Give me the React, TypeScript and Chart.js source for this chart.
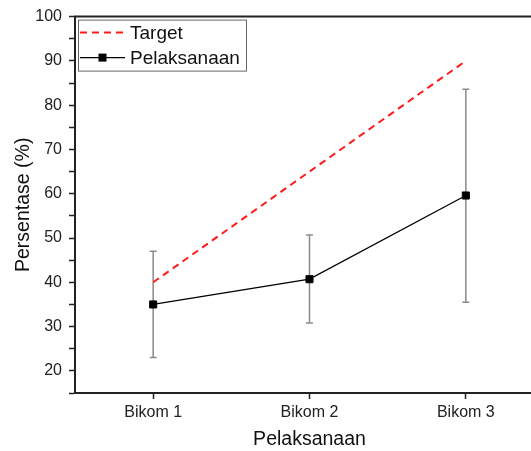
import React, { useEffect, useRef } from 'react';
import { Chart, registerables } from 'chart.js';

Chart.register(...registerables);

const categories = ['Bikom 1', 'Bikom 2', 'Bikom 3'];
const targetValues = [40, 65, 90];
const pelaksanaanValues = [35, 40.7, 59.6];
const errorLow = [23, 30.8, 35.5];
const errorHigh = [47, 50.7, 83.6];
const yMin = 15;
const yMax = 100;
const yStep = 5;
const yLabelStep = 10;

const FONT = '"Liberation Sans", Arial, sans-serif';
const AXIS = '#222222';

const errorBarPlugin = {
  id: 'errorBars',
  beforeDatasetsDraw(chart: any) {
    const ctx = chart.ctx;
    const xs = chart.scales.x;
    const ys = chart.scales.y;
    ctx.save();
    ctx.strokeStyle = '#8a8a8a';
    ctx.lineWidth = 1.5;
    categories.forEach((_c, i) => {
      const px = xs.getPixelForValue(i);
      const t = ys.getPixelForValue(errorHigh[i]);
      const b = ys.getPixelForValue(errorLow[i]);
      ctx.beginPath();
      ctx.moveTo(px, t);
      ctx.lineTo(px, b);
      ctx.moveTo(px - 3.5, t);
      ctx.lineTo(px + 3.5, t);
      ctx.moveTo(px - 3.5, b);
      ctx.lineTo(px + 3.5, b);
      ctx.stroke();
    });
    ctx.restore();
  },
};

const frameLegendPlugin = {
  id: 'frameLegend',
  afterDraw(chart: any) {
    const ctx = chart.ctx;
    const { left, top, right, bottom } = chart.chartArea;
    ctx.save();
    ctx.strokeStyle = AXIS;
    ctx.lineWidth = 2;
    ctx.beginPath();
    ctx.moveTo(left - 1, top);
    ctx.lineTo(right, top);
    ctx.lineTo(right, bottom);
    ctx.stroke();

    const bx = left + 3;
    const by = top + 3;
    const bw = 168;
    const bh = 51;
    ctx.fillStyle = '#ffffff';
    ctx.fillRect(bx, by, bw, bh);
    ctx.strokeStyle = '#666666';
    ctx.lineWidth = 1;
    ctx.strokeRect(bx + 0.5, by + 0.5, bw, bh);

    ctx.font = `19px ${FONT}`;
    ctx.textBaseline = 'middle';
    ctx.textAlign = 'left';
    chart.data.datasets.forEach((ds: any, i: number) => {
      const cy = by + 13 + i * 25;
      const x0 = bx + 2;
      const x1 = bx + 47;
      ctx.save();
      ctx.strokeStyle = ds.borderColor;
      ctx.lineWidth = ds.borderWidth;
      ctx.setLineDash(ds.borderDash || []);
      ctx.beginPath();
      ctx.moveTo(x0, cy);
      ctx.lineTo(x1, cy);
      ctx.stroke();
      ctx.restore();
      if (ds.pointRadius > 0) {
        ctx.fillStyle = ds.pointBackgroundColor;
        ctx.fillRect((x0 + x1) / 2 - 4, cy - 4, 8, 8);
      }
      ctx.fillStyle = '#111';
      ctx.fillText(ds.label, bx + 52, cy + 1);
    });
    ctx.restore();
  },
};

export default function App() {
  const ref = useRef<HTMLCanvasElement | null>(null);

  useEffect(() => {
    if (!ref.current) return;
    const chart = new Chart(ref.current, {
      type: 'line',
      data: {
        labels: categories,
        datasets: [
          {
            label: 'Target',
            data: targetValues,
            borderColor: '#ff1a1a',
            borderWidth: 2,
            borderDash: [7, 5],
            pointRadius: 0,
            fill: false,
            tension: 0,
          },
          {
            label: 'Pelaksanaan',
            data: pelaksanaanValues,
            borderColor: '#000000',
            borderWidth: 1.3,
            pointStyle: 'rect',
            pointRadius: 5,
            pointBorderWidth: 1,
            pointBackgroundColor: '#000000',
            pointBorderColor: '#000000',
            fill: false,
            tension: 0,
          },
        ],
      },
      options: {
        responsive: false,
        animation: false,
        devicePixelRatio: 1,
        layout: { padding: { top: 16, right: 3, left: 0, bottom: 0 } },
        plugins: {
          legend: { display: false },
          tooltip: { enabled: false },
        },
        scales: {
          x: {
            type: 'category',
            offset: true,
            afterFit(scale: any) {
              scale.height = 58;
            },
            grid: {
              display: true,
              drawOnChartArea: false,
              drawTicks: true,
              tickLength: 6,
              tickColor: AXIS,
              tickWidth: 1.5,
              offset: false,
            },
            border: { display: true, color: AXIS, width: 2 },
            ticks: {
              color: '#222',
              font: { family: FONT, size: 16 },
              padding: 4,
              maxRotation: 0,
            },
            title: {
              display: true,
              text: 'Pelaksanaan',
              color: '#111',
              font: { family: FONT, size: 19.5 },
              padding: { top: 0, bottom: 0 },
            },
          },
          y: {
            type: 'linear',
            min: yMin,
            max: yMax,
            afterFit(scale: any) {
              scale.width = 75;
            },
            grid: {
              display: true,
              drawOnChartArea: false,
              drawTicks: true,
              tickLength: 6,
              tickColor: AXIS,
              tickWidth: 1.5,
            },
            border: { display: true, color: AXIS, width: 2 },
            ticks: {
              stepSize: yStep,
              autoSkip: false,
              color: '#222',
              font: { family: FONT, size: 16 },
              padding: 7,
              callback: (v: any) => (Number(v) % yLabelStep === 0 ? String(v) : ''),
            },
            title: {
              display: true,
              text: 'Persentase (%)',
              color: '#111',
              font: { family: FONT, size: 19.5 },
              padding: { top: 12, bottom: 0 },
            },
          },
        },
      },
      plugins: [errorBarPlugin, frameLegendPlugin],
    });
    return () => chart.destroy();
  }, []);

  return (
    <div
      style={{
        position: 'fixed',
        left: 0,
        top: 0,
        width: 531,
        height: 451,
        overflow: 'hidden',
        background: '#ffffff',
      }}
    >
      <canvas ref={ref} width={550} height={451} style={{ width: 550, height: 451, display: 'block' }} />
    </div>
  );
}
